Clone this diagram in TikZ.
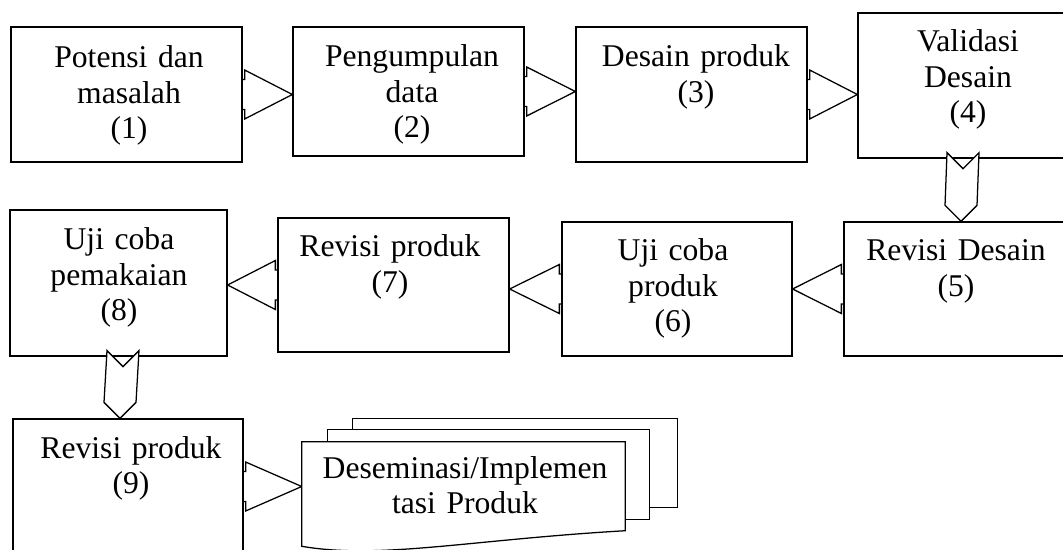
\documentclass[tikz,border=0pt]{standalone}
\usepackage{fontspec}
\setmainfont{Liberation Serif}
\usetikzlibrary{calc}
\tikzset{
	box/.style={draw, line width=0.9pt, fill=white, rectangle, inner sep=0pt},
	sz/.style 2 args={minimum width={#1*0.025cm}, minimum height={#2*0.025cm}},
	lbl/.style={anchor=base, text width=8cm, align=center, inner sep=0pt, font=\fontsize{22.5}{25}\selectfont},
	blk/.style={draw, line width=0.9pt, line join=miter},
}
% block arrow, right and left, tip at the next box
\newcommand{\rarr}[2]{\draw[blk] ($(#1.east)+(0,-15)$) -| ($(#1.east)+(2,-24.5)$) -- (#1.east -| #2.west) -- ($(#1.east)+(2,24.5)$) |- ($(#1.east)+(0,15)$);}
\newcommand{\larr}[2]{\draw[blk] ($(#1.west)+(0,-15)$) -| ($(#1.west)+(-2,-24.5)$) -- (#1.west -| #2.east) -- ($(#1.west)+(-2,24.5)$) |- ($(#1.west)+(0,15)$);}
% block arrow down: #1 top centre, #2 tip
\newcommand{\darr}[2]{\draw[blk, fill=white] ($(#1)+(-16,0)$) -- ($(#1)+(0,16)$) -- ($(#1)+(16,0)$) -- ($(#2)+(16,-16)$) -- (#2) -- ($(#2)+(-16,-16)$) -- cycle;}
\begin{document}
\begin{tikzpicture}[x=0.025cm, y=-0.025cm]
	\useasboundingbox (0,0) rectangle (1063,550);
	\clip (0,0) rectangle (1063,550);
	% boxes
	\node[box, sz={231}{135}] (b1) at (126.5,94.5) {};
	\node[box, sz={231}{129}] (b2) at (408.5,91.5) {};
	\node[box, sz={231}{135}] (b3) at (691.5,94.5) {};
	\node[box, sz={210}{145}] (b4) at (963,85.5) {};
	\node[box, sz={234}{134}] (b5) at (961,289) {};
	\node[box, sz={230}{134}] (b6) at (677,289) {};
	\node[box, sz={231}{134}] (b7) at (393.5,285) {};
	\node[box, sz={217}{146}] (b8) at (118.5,283) {};
	\node[box, sz={230}{135}] (b9) at (128,486.5) {};
	\node[sz={323}{104}, inner sep=0pt] (doc) at (463.5,494) {};
	% arrows
	\rarr{b1}{b2}
	\rarr{b2}{b3}
	\rarr{b3}{b4}
	\larr{b5}{b6}
	\larr{b6}{b7}
	\larr{b7}{b8}
	\rarr{b9}{doc}
	\coordinate (d1) at ($(b4.south)+(0,-6)$);
	\coordinate (d2) at ($(b8.south)+(4.5,-6)$);
	\coordinate (e2) at ($(b9.north)+(-8,0)$);
	\darr{d1}{b5.north}
	\darr{d2}{e2}
	% stacked pages
	\draw[blk, fill=white] ($(doc.north west)+(51,-12)$) -- ++(0,-11) -- ++(325,0) -- ++(0,89) -- ++(-28,0);
	\draw[blk, fill=white] ($(doc.north west)+(26,0)$) -- ++(0,-12) -- ++(322,0) -- ++(0,90) -- ++(-25,0);
	\draw[blk, fill=white] (doc.north west) -- (doc.north east) -- ($(doc.north east)+(0,89)$) .. controls ($(doc.north west)+(168,98)$) and ($(doc.north west)+(78,118)$) .. (doc.south west) -- cycle;
	% texts
	\node[lbl] (t1) at (129,68) {Potensi dan\\masalah\\(1)};
	\node[lbl] (t2) at (412,67) {Pengumpulan\\data\\(2)};
	\node[lbl] (t3) at (696,67) {Desain produk\\(3)};
	\node[lbl] (t4) at (968,52) {Validasi\\Desain\\(4)};
	\node[lbl] (t5) at (956,261) {Revisi Desain\\(5)};
	\node[lbl] (t6) at (673,261) {Uji coba\\produk\\(6)};
	\node[lbl] (t7) at (390,257) {Revisi produk\\(7)};
	\node[lbl] (t8) at (119,250) {Uji coba\\pemakaian\\(8)};
	\node[lbl] (t9) at (131,458) {Revisi produk\\(9)};
	\node[lbl] (t10) at (465,478) {Deseminasi/Implemen\\tasi Produk};
\end{tikzpicture}
\end{document}
